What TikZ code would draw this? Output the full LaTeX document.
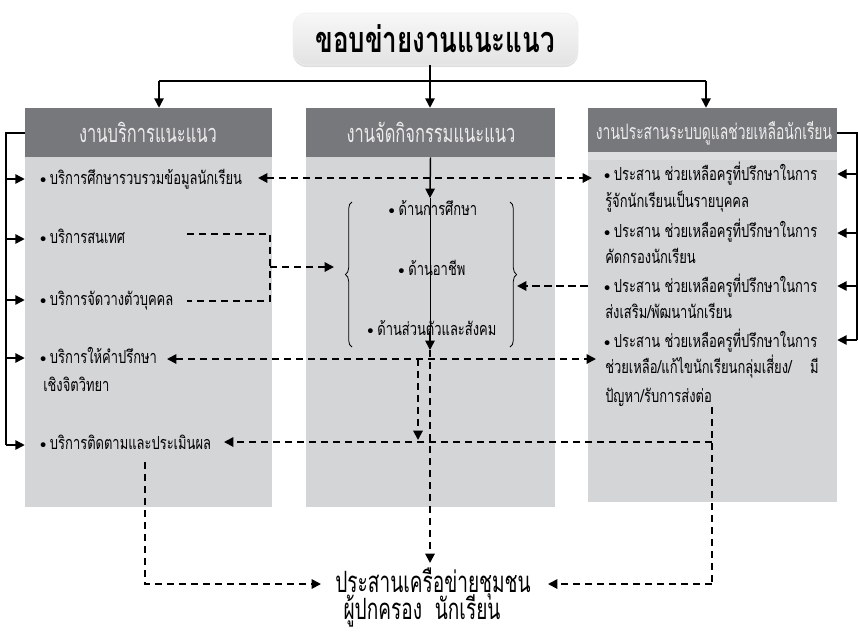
\documentclass[tikz,border=0pt]{standalone}
\usepackage{fontspec}
\newfontfamily\thaiitem[Script=Thai,FakeStretch=0.72]{Loma}
\newfontfamily\thaihead[Script=Thai,FakeStretch=0.65]{Loma}
\newfontfamily\thaititle[Script=Thai,FakeStretch=0.72]{Loma}
\usetikzlibrary{arrows.meta,fit,shadows,decorations.pathreplacing}
\definecolor{headgrey}{HTML}{77787B}
\definecolor{bodygrey}{HTML}{D4D5D7}
\definecolor{bandgrey}{HTML}{DDDEE0}
\definecolor{headtext}{HTML}{ECECEC}
\newcommand{\bul}{{\normalfont\textbullet}}
\tikzset{
  titlebox/.style={rounded corners=10pt, top color=gray!6, bottom color=gray!22,
    draw=gray!12, drop shadow={opacity=0.25, shadow xshift=0pt, shadow yshift=-1.5pt},
    inner sep=0pt},
  titletext/.style={anchor=base, inner sep=0pt, font=\thaititle\bfseries\fontsize{27}{30}\selectfont},
  headbox/.style={fill=headgrey, inner sep=0pt},
  headtext/.style={anchor=base, inner sep=0pt, text=headtext},
  bodybox/.style={fill=bodygrey, inner sep=0pt},
  item/.style={anchor=base west, inner sep=0pt, text height=9pt, text depth=2.5pt,
    font=\thaiitem\fontsize{13.5}{16}\selectfont},
  midtext/.style={anchor=base, inner sep=0pt, text height=9pt, text depth=2.5pt,
    font=\thaiitem\fontsize{13.5}{16}\selectfont},
  nettext/.style={anchor=base, inner sep=0pt, text height=14pt, text depth=4pt,
    font=\thaihead\fontsize{22}{26}\selectfont},
  solidlink/.style={line width=1.1pt},
  dashlink/.style={line width=1.4pt, dash pattern=on 5.5pt off 3.5pt},
  bracelink/.style={line width=0.6pt, decorate, decoration={brace, amplitude=5pt}},
}
\begin{document}
\begin{tikzpicture}[x=0.75pt, y=-0.75pt, >={Triangle[length=7pt,width=7pt]}]
\useasboundingbox (0,0) rectangle (858,633);

% ---- title ----
\node[titlebox, fit={(293,13) (578,65)}] (title) {};
\node[titletext] (titlelabel) at (435,52) {ขอบข่ายงานแนะแนว};

% ---- column boxes ----
\node[bodybox, fit={(25,157) (272,507)}] (Lbody) {};
\node[bodybox, fit={(306,157) (555,507)}] (Mbody) {};
\node[bodybox, fit={(588,152) (837,502)}] (Rbody) {};
\node[fill=bandgrey, inner sep=0pt, fit={(588,152) (837,160)}] (Rband) {};
\node[headbox, fit={(25,108) (272,157)}] (Lhead) {};
\node[headbox, fit={(306,108) (555,157)}] (Mhead) {};
\node[headbox, fit={(588,108) (837,152)}] (Rhead) {};
\node[headtext, font=\thaihead\fontsize{19}{22}\selectfont] (Lheadlabel) at (148,142) {งานบริการแนะแนว};
\node[headtext, font=\thaihead\fontsize{19}{22}\selectfont] (Mheadlabel) at (431,142) {งานจัดกิจกรรมแนะแนว};
\node[headtext, font=\thaihead\fontsize{16}{18}\selectfont] (Rheadlabel) at (714,139) {งานประสานระบบดูแลช่วยเหลือนักเรียน};

% ---- top bus ----
\coordinate (bus) at (430,81);
\coordinate (busL) at (159,81);
\coordinate (busR) at (706,81);
\draw[solidlink] (title.south -| bus) -- (bus);
\draw[solidlink] (busL) -- (busR);
\draw[solidlink,->] (busL) -- (busL |- Lhead.north);
\draw[solidlink,->] (bus) -- (bus |- Mhead.north);
\draw[solidlink,->] (busR) -- (busR |- Rhead.north);

% ---- left column items ----
\node[item] (L1) at (36,184) {\bul บริการศึกษารวบรวมข้อมูลนักเรียน};
\node[item] (L2) at (36,243) {\bul บริการสนเทศ};
\node[item] (L3) at (36,305) {\bul บริการจัดวางตัวบุคคล};
\node[item] (L4) at (36,363) {\bul บริการให้คำปรึกษา};
\node[item] (L4b) at (43,391) {เชิงจิตวิทยา};
\node[item] (L5) at (36,449) {\bul บริการติดตามและประเมินผล};

% left rail with one arrow per service
\coordinate (lrail) at (6,133);
\draw[solidlink] (Lhead.west |- lrail) -- (lrail) -- (6,445);
\foreach \yy in {179,239,300,358,445}
  \draw[solidlink,->] (6,\yy) -- (Lbody.west |- 0,\yy);

% ---- middle column items ----
\node[midtext] (M1) at (431,215) {\bul ด้านการศึกษา};
\node[midtext] (M2) at (430,275) {\bul ด้านอาชีพ};
\node[midtext] (M3) at (430,335) {\bul ด้านส่วนตัวและสังคม};
\coordinate (mtop) at (430,198);
\coordinate (mlow) at (430,350);
\draw[solidlink,->] (Mhead.south) -- (mtop);
\draw[line width=0.6pt] (mtop) -- (430,338);
\draw[solidlink,->] (430,332) -- (mlow);
\coordinate (braceLtop) at (352,202);
\coordinate (braceLbot) at (352,347);
\coordinate (braceRtop) at (510,202);
\coordinate (braceRbot) at (510,347);
\draw[bracelink] (braceLbot) -- (braceLtop);
\draw[bracelink] (braceRtop) -- (braceRbot);

% ---- right column items ----
\node[item] (R1) at (600,180) {\bul ประสาน ช่วยเหลือครูที่ปรึกษาในการ};
\node[item] (R1b) at (605,207) {รู้จักนักเรียนเป็นรายบุคคล};
\node[item] (R2) at (600,237) {\bul ประสาน ช่วยเหลือครูที่ปรึกษาในการ};
\node[item] (R2b) at (605,263) {คัดกรองนักเรียน};
\node[item] (R3) at (600,292) {\bul ประสาน ช่วยเหลือครูที่ปรึกษาในการ};
\node[item] (R3b) at (605,318) {ส่งเสริม/พัฒนานักเรียน};
\node[item] (R4) at (600,347) {\bul ประสาน ช่วยเหลือครูที่ปรึกษาในการ};
\node[item] (R4b) at (605,373) {\makebox[160pt][l]{ช่วยเหลือ/แก้ไขนักเรียนกลุ่มเสี่ยง/\hfill มี}};
\node[item] (R4c) at (605,402) {ปัญหา/รับการส่งต่อ};

% right rail with one arrow per task
\coordinate (rrail) at (857,133);
\draw[solidlink] (Rhead.east |- rrail) -- (rrail) -- (857,340);
\foreach \yy in {174,233,286,340}
  \draw[solidlink,->] (857,\yy) -- (Rbody.east |- 0,\yy);

% ---- bottom target ----
\node[nettext] (net) at (433,592) {ประสานเครือข่ายชุมชน};
\node[nettext] (net2) at (422,619) {ผู้ปกครอง\ \ นักเรียน};

% ---- dashed links ----
\coordinate (a1L) at (258,178);
\coordinate (a1R) at (592,178);
\draw[dashlink,<->] (a1L) -- (a1R);

\coordinate (bk1) at (187,234);
\coordinate (bk2) at (187,301);
\coordinate (bkx) at (270,267);
\coordinate (braceLtip) at (334,267);
\draw[dashlink] (bk1) -| (bkx) |- (bk2);
\draw[dashlink,->] (bkx) -- (braceLtip);

\coordinate (braceRtip) at (517,286);
\draw[dashlink,->] (Rbody.west |- braceRtip) -- (braceRtip);

\coordinate (a4L) at (167,359);
\coordinate (a4R) at (596,359);
\draw[dashlink,<->] (a4L) -- (a4R);

\coordinate (cornerM) at (418,359);
\coordinate (cornerTip) at (418,440);
\draw[dashlink,->] (cornerM) -- (cornerTip);

\coordinate (mbot) at (430,563);
\draw[dashlink,->] (mlow) -- (mbot);

\coordinate (rdrop) at (712,407);
\coordinate (rjoin) at (712,442);
\coordinate (rbot) at (712,584);
\coordinate (a5L) at (224,442);
\coordinate (netR) at (548,584);
\draw[dashlink] (rdrop) -- (rbot);
\draw[dashlink,->] (rjoin) -- (a5L);
\draw[dashlink,->] (rbot) -- (netR);

\coordinate (ldrop) at (145,462);
\coordinate (lbot) at (145,584);
\coordinate (netL) at (321,584);
\draw[dashlink,->] (ldrop) -- (lbot) -- (netL);
\end{tikzpicture}
\end{document}
